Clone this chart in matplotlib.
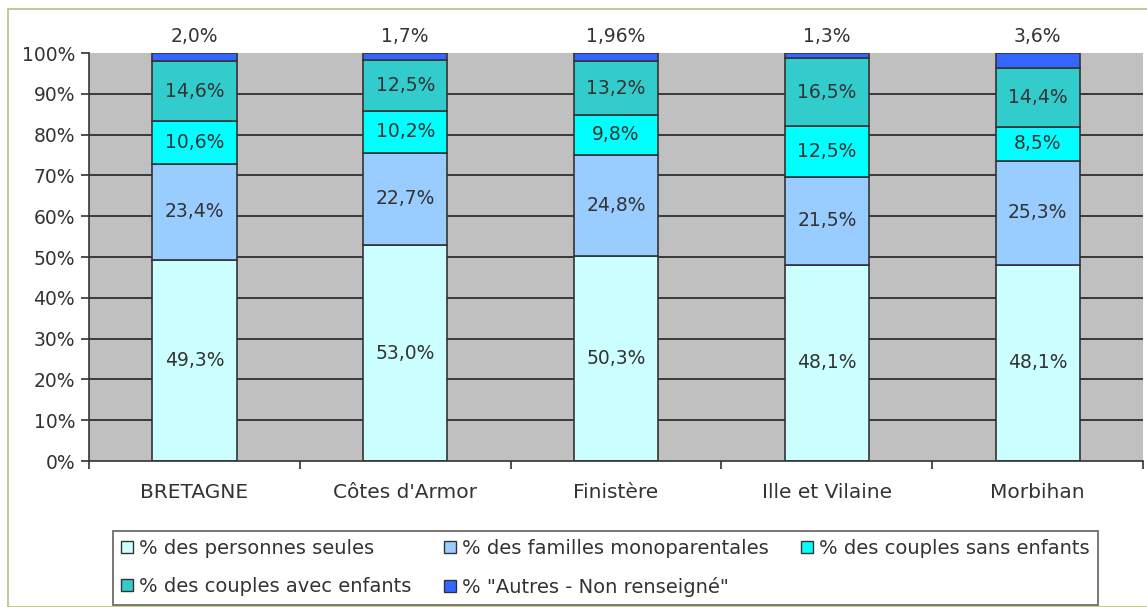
import matplotlib.pyplot as plt
import matplotlib.patches as mpatches
import numpy as np

plt.rcParams['font.family'] = ['DejaVu Sans']

# data
regions = ["BRETAGNE", "Côtes d'Armor", "Finistère", "Ille et Vilaine", "Morbihan"]
seules = [49.3, 53.0, 50.3, 48.1, 48.1]
monoparentales = [23.4, 22.7, 24.8, 21.5, 25.3]
sans_enfants = [10.6, 10.2, 9.8, 12.5, 8.5]
avec_enfants = [14.6, 12.5, 13.2, 16.5, 14.4]
autres = [2.0, 1.7, 1.96, 1.3, 3.6]
autres_labels = ["2,0%", "1,7%", "1,96%", "1,3%", "3,6%"]

series_names = ["% des personnes seules", "% des familles monoparentales",
                "% des couples sans enfants", "% des couples avec enfants",
                "% \"Autres - Non renseigné\""]
colors = ["#CCFFFF", "#99CCFF", "#00FFFF", "#33CCCC", "#3366FF"]

vals = np.array([seules, monoparentales, sans_enfants, avec_enfants, autres])
shares = vals / vals.sum(axis=0) * 100

fig = plt.figure(figsize=(11.47, 6.07), dpi=100)
ax = fig.add_axes([0.0776, 0.2405, 0.919, 0.672])
ax.set_facecolor("#C0C0C0")

x = np.arange(len(regions))
ax.set_xlim(-0.5, len(regions) - 0.5)
ax.set_ylim(0, 100)

for y in range(10, 100, 10):
    ax.axhline(y, color="#3a3a3a", lw=1.4, zorder=1)

txt = "#333333"
bottom = np.zeros(len(regions))
for i in range(5):
    ax.bar(x, shares[i], 0.4, bottom=bottom, color=colors[i],
           edgecolor="#333333", linewidth=1.2, zorder=2)
    if i < 4:
        for j in range(len(regions)):
            label = f"{vals[i][j]:.1f}%".replace(".", ",")
            ax.text(x[j], bottom[j] + shares[i][j] / 2, label, ha="center",
                    va="center", fontsize=13.5, color=txt, zorder=3)
    bottom += shares[i]

for j in range(len(regions)):
    ax.text(x[j], 101.8, autres_labels[j], ha="center", va="bottom",
            fontsize=13.5, color=txt, clip_on=False)

ax.set_yticks(range(0, 101, 10))
ax.set_yticklabels([f"{v}%" for v in range(0, 101, 10)], fontsize=13.5, color=txt)
ax.set_xticks(x)
ax.set_xticklabels(regions, fontsize=14.5, color=txt)
ax.tick_params(axis="x", which="major", length=0, pad=16)
ax.set_xticks(np.arange(-0.5, len(regions)), minor=True)
ax.tick_params(axis="x", which="minor", length=6, width=1.2, color="#333333")
ax.tick_params(axis="y", length=6, width=1.2, color="#333333", pad=4)

for s in ["top", "right"]:
    ax.spines[s].set_visible(False)
ax.spines["left"].set_color("#333333")
ax.spines["left"].set_linewidth(1.2)
ax.spines["bottom"].set_color("#333333")
ax.spines["bottom"].set_linewidth(1.2)

order = [0, 3, 1, 4, 2]
handles = [mpatches.Patch(facecolor=colors[k], edgecolor="#333333", linewidth=1.0) for k in order]
labels = [series_names[k] for k in order]
leg = fig.legend(handles, labels, ncol=3, loc="upper left",
                 bbox_to_anchor=(113 / 1147, 1 - 531 / 607), fontsize=14,
                 frameon=True, fancybox=False, edgecolor="#555555",
                 handlelength=0.6, handleheight=0.6, handletextpad=0.3,
                 columnspacing=1.7, borderpad=0.42, borderaxespad=0,
                 labelspacing=0.95)
leg.get_frame().set_linewidth(1.4)
for t in leg.get_texts():
    t.set_color(txt)

border = mpatches.Rectangle((8 / 1147, 0), 1.0, 1 - 9 / 607, transform=fig.transFigure,
                            fill=False, edgecolor="#B8BE8C", linewidth=1.2)
fig.patches.append(border)

fig.savefig("out.png", dpi=100)
